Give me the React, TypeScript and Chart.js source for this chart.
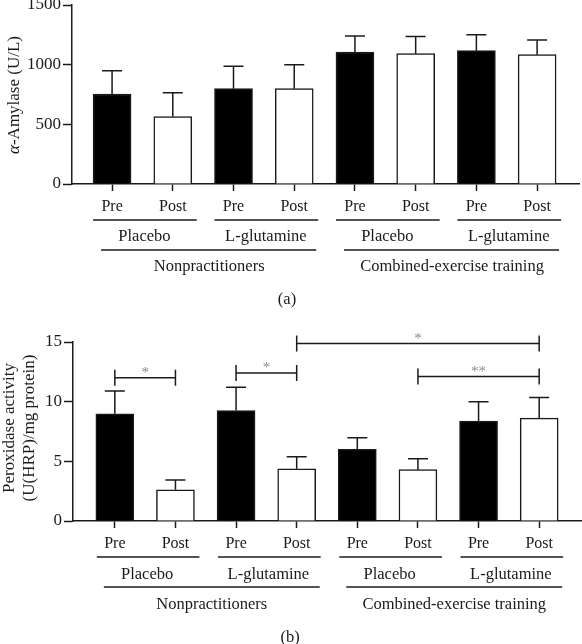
import React, { useEffect, useRef } from "react";
import { Chart, registerables } from "chart.js";

Chart.register(...registerables);

// ---------- data ----------
const conditions = ["Pre", "Post", "Pre", "Post", "Pre", "Post", "Pre", "Post"];
const supplements = ["Placebo", "L-glutamine", "Placebo", "L-glutamine"];
const populations = ["Nonpractitioners", "Combined-exercise training"];

const amylaseMean = [754, 564, 799, 799, 1106, 1092, 1117, 1084];
const amylaseUpper = [950, 765, 986, 1000, 1240, 1235, 1251, 1207];
const amylaseTicks = [0, 500, 1000, 1500];

const peroxidaseMean = [8.98, 2.62, 9.26, 4.38, 6.0, 4.3, 8.37, 8.62];
const peroxidaseUpper = [10.9, 3.43, 11.2, 5.38, 6.97, 5.21, 10.0, 10.35];
const peroxidaseTicks = [0, 5, 10, 15];

// [from bar, to bar, height (y value), label]
const peroxidaseBrackets: [number, number, number, string][] = [
  [0, 1, 12.0, "*"],
  [2, 3, 12.4, "*"],
  [3, 7, 14.87, "*"],
  [5, 7, 12.1, "**"],
];

// ---------- styling ----------
const FONT = "'Liberation Serif', 'Times New Roman', serif";
const LINE = "#1a1a1a";
const TEXT = "#1a1a1a";
const W = 582;

type PanelCfg = {
  height: number;
  area: { left: number; right: number; top: number; bottom: number };
  xMin: number;
  xMax: number;
  yMax: number;
  yTicks: number[];
  mean: number[];
  upper: number[];
  brackets: [number, number, number, string][];
  rows: { line1: number; sup: number; line2: number; pop: number; panel: number };
  line1: [number, number];
  line2: [number, number];
  titleLines: { text: string; italicPrefix?: string; x: number }[];
  titleY: number;
  panelLabel: string;
  panelX: number;
};

function makePlugin(cfg: PanelCfg) {
  return {
    id: "annot",
    afterDatasetsDraw(chart: any) {
      const ctx = chart.ctx as CanvasRenderingContext2D;
      const xs = chart.scales.x;
      const ys = chart.scales.y;
      ctx.save();
      ctx.strokeStyle = LINE;
      ctx.lineWidth = 1.5;
      cfg.upper.forEach((u, i) => {
        const x = xs.getPixelForValue(i);
        const y0 = ys.getPixelForValue(cfg.mean[i]);
        const y1 = ys.getPixelForValue(u);
        ctx.beginPath();
        ctx.moveTo(x, y0);
        ctx.lineTo(x, y1);
        ctx.moveTo(x - 10, y1);
        ctx.lineTo(x + 10, y1);
        ctx.stroke();
      });
      ctx.restore();
    },
    afterDraw(chart: any) {
      const ctx = chart.ctx as CanvasRenderingContext2D;
      const xs = chart.scales.x;
      const ys = chart.scales.y;
      const r = cfg.rows;
      ctx.save();
      ctx.strokeStyle = LINE;
      ctx.fillStyle = TEXT;
      ctx.lineWidth = 1.5;
      ctx.textAlign = "center";
      ctx.textBaseline = "middle";
      ctx.font = `16.5px ${FONT}`;
      // supplement groups
      supplements.forEach((s, g) => {
        const xa = xs.getPixelForValue(g * 2);
        const xb = xs.getPixelForValue(g * 2 + 1);
        ctx.beginPath();
        ctx.moveTo(xa + cfg.line1[0], r.line1);
        ctx.lineTo(xb + cfg.line1[1], r.line1);
        ctx.stroke();
        ctx.fillText(s, (xa + xb) / 2 + 2, r.sup);
      });
      // population groups
      populations.forEach((p, g) => {
        const xa = xs.getPixelForValue(g * 4);
        const xb = xs.getPixelForValue(g * 4 + 3);
        ctx.beginPath();
        ctx.moveTo(xa + cfg.line2[0], r.line2);
        ctx.lineTo(xb + cfg.line2[1], r.line2);
        ctx.stroke();
        ctx.fillText(p, (xa + xb) / 2 + 6, r.pop);
      });
      // panel label
      ctx.fillText(cfg.panelLabel, cfg.panelX, r.panel);
      // significance brackets
      cfg.brackets.forEach(([a, b, v, lab]) => {
        const xa = xs.getPixelForValue(a);
        const xb = xs.getPixelForValue(b);
        const y = ys.getPixelForValue(v);
        ctx.strokeStyle = LINE;
        ctx.beginPath();
        ctx.moveTo(xa, y);
        ctx.lineTo(xb, y);
        ctx.moveTo(xa, y - 8);
        ctx.lineTo(xa, y + 8);
        ctx.moveTo(xb, y - 8);
        ctx.lineTo(xb, y + 8);
        ctx.stroke();
        ctx.save();
        ctx.fillStyle = "#8a8a8a";
        ctx.font = `15px ${FONT}`;
        ctx.textBaseline = "alphabetic";
        ctx.fillText(lab, (xa + xb) / 2, y - 1);
        ctx.restore();
      });
      // y-axis title
      cfg.titleLines.forEach((t) => {
        ctx.save();
        ctx.translate(t.x, cfg.titleY);
        ctx.rotate(-Math.PI / 2);
        ctx.textBaseline = "middle";
        const f = `17px ${FONT}`;
        if (t.italicPrefix) {
          ctx.font = `italic ${f}`;
          const wi = ctx.measureText(t.italicPrefix).width;
          ctx.font = f;
          const wn = ctx.measureText(t.text).width;
          const start = -(wi + wn) / 2;
          ctx.textAlign = "left";
          ctx.font = `italic ${f}`;
          ctx.fillText(t.italicPrefix, start, 0);
          ctx.font = f;
          ctx.fillText(t.text, start + wi, 0);
        } else {
          ctx.font = f;
          ctx.textAlign = "center";
          ctx.fillText(t.text, 0, 0);
        }
        ctx.restore();
      });
      ctx.restore();
    },
  };
}

function buildChart(canvas: HTMLCanvasElement, cfg: PanelCfg) {
  const tickFont = { family: FONT, size: 16 };
  return new Chart(canvas, {
    type: "bar",
    data: {
      datasets: [
        {
          data: cfg.mean.map((v, i) => ({ x: i, y: v })),
          backgroundColor: conditions.map((c) => (c === "Pre" ? "#000000" : "#ffffff")),
          borderColor: LINE,
          borderWidth: 1.5,
          barThickness: 38,
        },
      ],
    },
    options: {
      animation: false,
      responsive: false,
      maintainAspectRatio: false,
      layout: { padding: { left: 0, right: W - cfg.area.right, top: cfg.area.top, bottom: 0 } },
      plugins: { legend: { display: false }, tooltip: { enabled: false } },
      scales: {
        x: {
          type: "linear",
          offset: false,
          min: cfg.xMin,
          max: cfg.xMax,
          afterBuildTicks: (s: any) => {
            s.ticks = conditions.map((_, i) => ({ value: i }));
          },
          afterFit: (s: any) => {
            s.height = cfg.height - cfg.area.bottom;
            s.paddingLeft = 0;
            s.paddingRight = 0;
          },
          ticks: {
            autoSkip: false,
            maxRotation: 0,
            padding: 6,
            color: TEXT,
            font: tickFont,
            callback: (_v: any, i: number) => conditions[i],
          },
          grid: { offset: false, drawOnChartArea: false, drawTicks: true, tickLength: 7, tickWidth: 1.5, tickColor: LINE },
          border: { color: LINE, width: 1.5 },
        },
        y: {
          min: 0,
          max: cfg.yMax,
          afterBuildTicks: (s: any) => {
            s.ticks = cfg.yTicks.map((v) => ({ value: v }));
          },
          afterFit: (s: any) => {
            s.width = cfg.area.left;
            s.paddingTop = 0;
            s.paddingBottom = 0;
          },
          ticks: { padding: 2, color: TEXT, font: { family: FONT, size: 17 }, callback: (v: any) => String(v) },
          grid: { drawOnChartArea: false, drawTicks: true, tickLength: 9, tickWidth: 1.5, tickColor: LINE },
          border: { color: LINE, width: 1.5 },
        },
      },
    },
    plugins: [makePlugin(cfg)],
  } as any);
}

const panelA: PanelCfg = {
  height: 320,
  area: { left: 72, right: 579, top: 5, bottom: 184 },
  xMin: -0.66,
  xMax: 7.69,
  yMax: 1500,
  yTicks: amylaseTicks,
  mean: amylaseMean,
  upper: amylaseUpper,
  brackets: [],
  rows: { line1: 220, sup: 237, line2: 250, pop: 267, panel: 300 },
  line1: [-19, 24],
  line2: [-11, 22],
  titleLines: [{ italicPrefix: "α", text: "-Amylase (U/L)", x: 15 }],
  titleY: 95,
  panelLabel: "(a)",
  panelX: 287,
};

const panelB: PanelCfg = {
  height: 324,
  area: { left: 73, right: 581, top: 22, bottom: 201 },
  xMin: -0.69,
  xMax: 7.69,
  yMax: 15,
  yTicks: peroxidaseTicks,
  mean: peroxidaseMean,
  upper: peroxidaseUpper,
  brackets: peroxidaseBrackets,
  rows: { line1: 237, sup: 255, line2: 267, pop: 285, panel: 318 },
  line1: [-18, 24],
  line2: [-11, 23],
  titleLines: [
    { text: "Peroxidase activity", x: 10 },
    { text: "(U(HRP)/mg protein)", x: 30 },
  ],
  titleY: 108,
  panelLabel: "(b)",
  panelX: 290,
};

export default function App() {
  const refA = useRef<HTMLCanvasElement>(null);
  const refB = useRef<HTMLCanvasElement>(null);
  useEffect(() => {
    const a = buildChart(refA.current!, panelA);
    const b = buildChart(refB.current!, panelB);
    return () => {
      a.destroy();
      b.destroy();
    };
  }, []);
  return (
    <div style={{ position: "absolute", left: 0, top: 0, width: W, height: 644, background: "#fff" }}>
      <canvas ref={refA} width={W} height={320} style={{ position: "absolute", left: 0, top: 0, display: "block" }} />
      <canvas ref={refB} width={W} height={324} style={{ position: "absolute", left: 0, top: 320, display: "block" }} />
    </div>
  );
}
